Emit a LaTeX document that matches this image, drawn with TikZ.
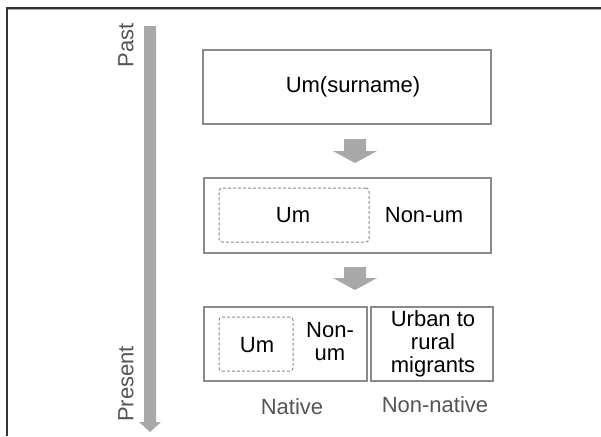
\documentclass[tikz,border=0pt]{standalone}
\usepackage{fontspec}
\setmainfont{Liberation Sans}
\definecolor{arrowgray}{HTML}{A8A8A8}
\definecolor{boxgray}{HTML}{8A8A8A}
\definecolor{labelgray}{HTML}{555555}
\definecolor{framedark}{HTML}{333333}
\begin{document}
\begin{tikzpicture}[x=0.5pt,y=-0.5pt,
  font=\fontsize{11}{11.5}\selectfont,
  boxnode/.style={draw=boxgray, line width=0.55pt, inner sep=0pt},
  dashbox/.style={draw=boxgray, line width=0.5pt, dash pattern=on 1.5pt off 1pt, rounded corners=1.5pt, inner sep=0pt},
  txt/.style={text=black, align=center, inner sep=0pt},
  lbl/.style={text=labelgray, inner sep=0pt}]
\useasboundingbox (0,0) rectangle (601,436);
\fill[white] (0,0) rectangle (601,436);
% frame
\draw[framedark, line width=1pt] (7,436) -- (7,7.5) -- (601,7.5);
\draw[black!35, line width=0.5pt] (8,9) -- (601,9);
% timeline
\coordinate (tltop) at (150,26);
\fill[arrowgray] (tltop) ++(-6,0) -- ++(12,0) -- ++(0,396) -- ++(5,0) -- ++(-11,10) -- ++(-11,-10) -- ++(5,0) -- cycle;
\node[lbl, rotate=90] (past) at (126,45) {Past};
\node[lbl, rotate=90] (present) at (126,384) {Present};
% box 1
\node[boxnode, minimum width=144pt, minimum height=37pt] (b1) at (347,87) {};
\node[txt] (t1) at (353,87) {Um(surname)};
% arrow 1
\coordinate (a1) at (355,139);
\fill[arrowgray] (a1) ++(-11,0) -- ++(22,0) -- ++(0,12) -- ++(11,0) -- ++(-22,12) -- ++(-22,-12) -- ++(11,0) -- cycle;
% box 2
\node[boxnode, minimum width=143.5pt, minimum height=37.5pt] (b2) at (347.5,215.5) {};
\node[dashbox, minimum width=75pt, minimum height=27pt] (d2) at (294,215) {};
\node[txt] (um2) at (293,215) {Um};
\node[txt] (nonum2) at (424,215) {Non-um};
% arrow 2
\coordinate (a2) at (355,267);
\fill[arrowgray] (a2) ++(-11,0) -- ++(22,0) -- ++(0,11) -- ++(11,0) -- ++(-22,12) -- ++(-22,-12) -- ++(11,0) -- cycle;
% box 3
\node[boxnode, minimum width=81.5pt, minimum height=37pt] (b3) at (285.5,344) {};
\node[dashbox, minimum width=37pt, minimum height=27pt] (d3) at (256,344) {};
\node[txt] (um3) at (257,345) {Um};
\node[txt] (nonum3) at (330,342) {Non-\\um};
% box 4
\node[boxnode, minimum width=61pt, minimum height=37pt] (b4) at (432,344) {};
\node[txt] (urb) at (433,344) {Urban to\\rural\\migrants};
% labels
\node[lbl] (native) at (292,407) {Native};
\node[lbl] (nonnative) at (435,405) {Non-native};
\end{tikzpicture}
\end{document}
